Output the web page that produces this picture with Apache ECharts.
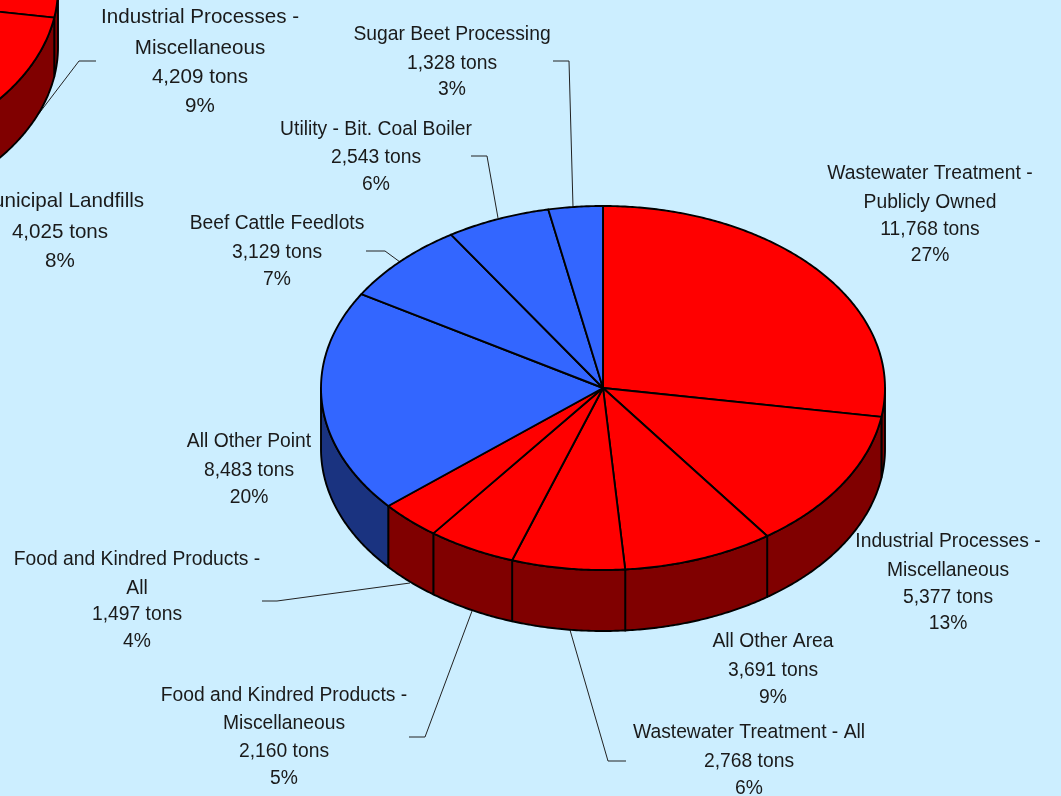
<!DOCTYPE html>
<html>
<head>
<meta charset="utf-8">
<title>Emissions by source</title>
<script src="https://cdn.jsdelivr.net/npm/echarts@6/dist/echarts.min.js"></script>
<style>html,body{margin:0;padding:0;background:#cceeff}#chart{width:1061px;height:796px}</style>
</head>
<body>
<div id="chart"></div>
<script>
// Main pie, clockwise from twelve o'clock.
const mainNames = [
  ['Wastewater Treatment -', 'Publicly Owned'],
  ['Industrial Processes -', 'Miscellaneous'],
  ['All Other Area'],
  ['Wastewater Treatment - All'],
  ['Food and Kindred Products -', 'Miscellaneous'],
  ['Food and Kindred Products -', 'All'],
  ['All Other Point'],
  ['Beef Cattle Feedlots'],
  ['Utility - Bit. Coal Boiler'],
  ['Sugar Beet Processing']
];
const mainTons = [11768, 5377, 3691, 2768, 2160, 1497, 8483, 3129, 2543, 1328];
const mainPercents = [27, 13, 9, 6, 5, 4, 20, 7, 6, 3];
const mainKinds = ['area', 'area', 'area', 'area', 'area', 'area', 'point', 'point', 'point', 'point'];

// Neighbouring pie, mostly beyond the top-left corner of the page.
const sideNames = [[], ['Industrial Processes -', 'Miscellaneous'], ['Municipal Landfills'], []];
const sideTons = [13250, 4209, 4025, 26516];
const sidePercents = [null, 9, 8, null];
const sideKinds = ['area', 'area', 'area', 'area'];

const faceColors = { area: '#ff0000', point: '#3366ff' };
const wallColors = { area: '#800000', point: '#1a3380' };
const INK = '#1a1a1a';
const MAIN_FONT = '19.3px "Liberation Sans", Arial, sans-serif';
const SIDE_FONT = '20.6px "Liberation Sans", Arial, sans-serif';
const EDGE = 1.9;

const mainDisc = { cx: 603, cy: 388, rx: 282, ry: 182, depth: 61 };
const sideDisc = { cx: -224, cy: -12, rx: 282, ry: 182, depth: 59 };

// Text anchors: horizontal centre plus the middle of each line.
const mainTextSpots = [
  { x: 930, ys: [174, 203, 230, 256] },
  { x: 948, ys: [542, 571, 598, 624] },
  { x: 773, ys: [642, 671, 698] },
  { x: 749, ys: [733, 762, 789] },
  { x: 284, ys: [696, 724, 752, 779] },
  { x: 137, ys: [560, 589, 615, 642] },
  { x: 249, ys: [442, 471, 498] },
  { x: 277, ys: [224, 253, 280] },
  { x: 376, ys: [130, 158, 185] },
  { x: 452, ys: [35, 64, 90] }
];
const sideTextSpots = [
  null,
  { x: 200, ys: [17, 48, 77, 106] },
  { x: 60, ys: [201, 232, 261] },
  null
];

// Leader lines from text blocks to their slices.
const leaders = [
  [[553, 61], [569, 61], [573, 207]],
  [[471, 156], [487, 156], [498, 218]],
  [[366, 251], [385, 251], [400, 262]],
  [[262, 601], [277, 601], [410, 583]],
  [[409, 737], [425, 737], [472, 611]],
  [[626, 761], [608, 761], [570, 630]],
  [[96, 61], [79, 61], [34, 120]]
];

const rad = d => d * Math.PI / 180;
const rimPoint = (disc, deg, drop) => [
  disc.cx + disc.rx * Math.sin(rad(deg)),
  disc.cy - disc.ry * Math.cos(rad(deg)) + drop
];
const arc = (disc, from, to, drop) => {
  const pts = [];
  const steps = Math.max(1, Math.ceil(Math.abs(to - from) * 2));
  for (let i = 0; i <= steps; i++) pts.push(rimPoint(disc, from + (to - from) * i / steps, drop));
  return pts;
};
const sweep = (tons, index) => {
  const total = tons.reduce((a, b) => a + b, 0);
  const before = tons.slice(0, index).reduce((a, b) => a + b, 0);
  return [before / total * 360, (before + tons[index]) / total * 360];
};

// Curved outer wall of one slice; only the front half of the disc shows it.
function wallSeries(disc, tons, kinds) {
  return {
    type: 'custom', coordinateSystem: 'none', silent: true, z: 2, clip: false,
    data: tons,
    renderItem(params) {
      const [a, b] = sweep(tons, params.dataIndex);
      const from = Math.max(a, 90), to = Math.min(b, 270);
      if (to <= from) return null;
      const points = arc(disc, from, to, 0).concat(arc(disc, to, from, disc.depth));
      return {
        type: 'polygon', shape: { points },
        style: { fill: wallColors[kinds[params.dataIndex]], stroke: '#000', lineWidth: EDGE, lineJoin: 'round' }
      };
    }
  };
}

// Top face of one slice.
function faceSeries(disc, tons, kinds) {
  return {
    type: 'custom', coordinateSystem: 'none', silent: true, z: 3, clip: false,
    data: tons,
    renderItem(params) {
      const [a, b] = sweep(tons, params.dataIndex);
      const points = [[disc.cx, disc.cy]].concat(arc(disc, a, b, 0));
      return {
        type: 'polygon', shape: { points },
        style: { fill: faceColors[kinds[params.dataIndex]], stroke: '#000', lineWidth: EDGE, lineJoin: 'round' }
      };
    }
  };
}

function labelSeries(names, tons, percents, spots, font) {
  return {
    type: 'custom', coordinateSystem: 'none', silent: true, z: 5, clip: false,
    data: tons,
    renderItem(params) {
      const i = params.dataIndex;
      const spot = spots[i];
      if (!spot) return null;
      const lines = names[i].concat([tons[i].toLocaleString('en-US') + ' tons', percents[i] + '%']);
      return {
        type: 'group',
        children: lines.map((text, k) => ({
          type: 'text',
          style: { text, x: spot.x, y: spot.ys[k], align: 'center', verticalAlign: 'middle', font, fill: INK }
        }))
      };
    }
  };
}

const leaderSeries = {
  type: 'custom', coordinateSystem: 'none', silent: true, z: 1, clip: false,
  data: leaders.map((_, i) => i),
  renderItem(params) {
    return {
      type: 'polyline', shape: { points: leaders[params.dataIndex] },
      style: { fill: 'none', stroke: '#222', lineWidth: 1 }
    };
  }
};

const chart = echarts.init(document.getElementById('chart'), null, { renderer: 'canvas', width: 1061, height: 796 });
chart.setOption({
  animation: false,
  backgroundColor: '#cceeff',
  series: [
    leaderSeries,
    wallSeries(sideDisc, sideTons, sideKinds),
    faceSeries(sideDisc, sideTons, sideKinds),
    wallSeries(mainDisc, mainTons, mainKinds),
    faceSeries(mainDisc, mainTons, mainKinds),
    labelSeries(sideNames, sideTons, sidePercents, sideTextSpots, SIDE_FONT),
    labelSeries(mainNames, mainTons, mainPercents, mainTextSpots, MAIN_FONT)
  ]
});
</script>
</body>
</html>
